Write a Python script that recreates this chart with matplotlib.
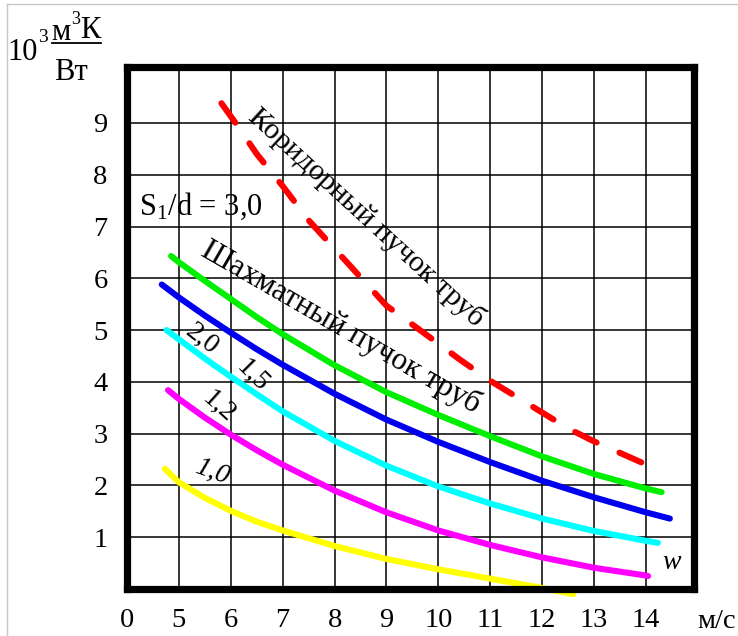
import matplotlib
matplotlib.use("Agg")
import matplotlib.pyplot as plt
from matplotlib.lines import Line2D

plt.rcParams["font.family"] = ["Liberation Serif", "DejaVu Serif"]
plt.rcParams["mathtext.fontset"] = "custom"
plt.rcParams["mathtext.rm"] = "Liberation Serif"
plt.rcParams["mathtext.it"] = "Liberation Serif:italic"

# Gas velocity w, m/s, and thermal resistance, 10^3 m^3K/W
x_ticks = [4, 5, 6, 7, 8, 9, 10, 11, 12, 13, 14]
x_tick_labels = ["0", "5", "6", "7", "8", "9", "10", "11", "12", "13", "14"]
y_ticks = [1, 2, 3, 4, 5, 6, 7, 8, 9]
y_tick_labels = ["1", "2", "3", "4", "5", "6", "7", "8", "9"]

# In-line (corridor) tube bundle
inline_w = [5.82, 6.14, 6.5, 7.0, 7.5, 8.0, 8.5, 9.0, 9.7, 10.4, 11.0, 11.8, 12.5, 13.0, 13.9, 14.27]
inline_r = [9.38, 8.93, 8.4, 7.78, 7.12, 6.57, 6.02, 5.47, 4.96, 4.44, 4.02, 3.53, 3.1, 2.85, 2.45, 2.3]

# Staggered tube bundle, S1/d = 3.0, 2.0, 1.5, 1.2, 1.0
s30_w = [4.85, 5, 5.5, 6, 6.5, 7, 8, 9, 10, 11, 12, 13, 14, 14.3]
s30_r = [6.43, 6.31, 5.95, 5.6, 5.25, 4.92, 4.32, 3.8, 3.36, 2.95, 2.56, 2.22, 1.94, 1.87]

s20_w = [4.67, 5, 5.5, 6, 6.5, 7, 8, 9, 10, 11, 12, 13, 14, 14.46]
s20_r = [5.88, 5.63, 5.28, 4.95, 4.63, 4.33, 3.77, 3.27, 2.84, 2.45, 2.09, 1.77, 1.48, 1.36]

s15_w = [4.76, 5, 5.5, 6, 6.5, 7, 8, 9, 10, 11, 12, 13, 14, 14.23]
s15_r = [5.0, 4.82, 4.45, 4.1, 3.76, 3.43, 2.86, 2.38, 1.98, 1.65, 1.36, 1.12, 0.93, 0.89]

s12_w = [4.79, 5, 5.5, 6, 6.5, 7, 8, 9, 10, 11, 12, 13, 14, 14.04]
s12_r = [3.84, 3.67, 3.31, 2.98, 2.68, 2.4, 1.9, 1.48, 1.13, 0.85, 0.61, 0.41, 0.26, 0.25]

s10_w = [4.73, 5, 5.5, 6, 6.5, 7, 8, 9, 10, 11, 12, 12.6]
s10_r = [2.32, 2.06, 1.76, 1.51, 1.3, 1.13, 0.83, 0.58, 0.38, 0.2, 0.02, -0.1]

W, H = 738, 636
fig = plt.figure(figsize=(W / 100, H / 100), dpi=100)


def fx(px):
    return px / W


def fy(py):
    return 1 - py / H


ax = fig.add_axes([fx(127), fy(589), fx(694) - fx(127), fy(67) - fy(589)])
ax.set_xlim(4.0, 14.925)
ax.set_ylim(0, 10.08)

ax.set_xticks(x_ticks)
ax.set_xticklabels(x_tick_labels)
ax.set_yticks(y_ticks)
ax.set_yticklabels(y_tick_labels)
ax.tick_params(length=0, labelsize=20.5, pad=14)
ax.grid(True, color="black", linewidth=1.1, zorder=0)
ax.set_axisbelow(True)
for sp in ax.spines.values():
    sp.set_linewidth(5.2)
    sp.set_zorder(5)

lw = 4.4
curves = [
    (s30_w, s30_r, "#00ee00"),
    (s20_w, s20_r, "#0000ee"),
    (s15_w, s15_r, "#00ffff"),
    (s12_w, s12_r, "#ff00ff"),
    (s10_w, s10_r, "#ffff00"),
]
for xs, ys, c in curves:
    ax.plot(xs, ys, color=c, linewidth=lw, solid_capstyle="round",
            solid_joinstyle="round", clip_on=False, zorder=3)

ax.plot(inline_w, inline_r, color="#ff0000", linewidth=lw, dashes=(3.9, 4.1),
        dash_capstyle="round", zorder=3)

# Curve captions
ax.text(4.24, 7.38, r"S$_{\mathrm{1}}$/d = 3,0", fontsize=22, ha="left", va="center")
ax.text(8.62, 7.17, "Коридорный пучок труб", fontsize=21.5, rotation=-42.5,
        rotation_mode="anchor", ha="center", va="center")
ax.text(8.12, 5.05, "Шахматный пучок труб", fontsize=22.5, rotation=-30,
        rotation_mode="anchor", ha="center", va="center")
ax.text(5.44, 4.82, "2,0", fontsize=20, rotation=-38, rotation_mode="anchor",
        ha="center", va="center")
ax.text(6.41, 4.12, "1,5", fontsize=20, rotation=-45, rotation_mode="anchor",
        ha="center", va="center")
ax.text(5.77, 3.51, "1,2", fontsize=20, rotation=-42, rotation_mode="anchor",
        ha="center", va="center")
ax.text(5.64, 2.25, "1,0", fontsize=20, rotation=-20, rotation_mode="anchor",
        ha="center", va="center", style="italic")
ax.text(14.5, 0.52, "w", fontsize=20, style="italic", ha="center", va="center")
ax.text(15.37, -0.62, "м/с", fontsize=20.5, ha="center", va="center", clip_on=False)

# Units of the vertical axis
fig.text(fx(23), fy(53), "10", fontsize=22, ha="center", va="center")
fig.text(fx(43), fy(38), "3", fontsize=14, ha="center", va="center")
fig.text(fx(61), fy(32), "м", fontsize=22, ha="center", va="center")
fig.text(fx(75.5), fy(20), "3", fontsize=13, ha="center", va="center")
fig.text(fx(90.5), fy(30), "К", fontsize=22, ha="center", va="center")
fig.add_artist(Line2D([fx(52), fx(101)], [fy(43), fy(43)], color="black", linewidth=1.3))
fig.text(fx(71), fy(73), "Вт", fontsize=22, ha="center", va="center")

# Thin outer frame
fig.add_artist(Line2D([fx(7), fx(7)], [0, fy(4)], color="#c8c8c8", linewidth=1.0))
fig.add_artist(Line2D([fx(7), 1], [fy(4), fy(4)], color="#c8c8c8", linewidth=1.0))

fig.savefig("out.png", dpi=100, facecolor="white")
